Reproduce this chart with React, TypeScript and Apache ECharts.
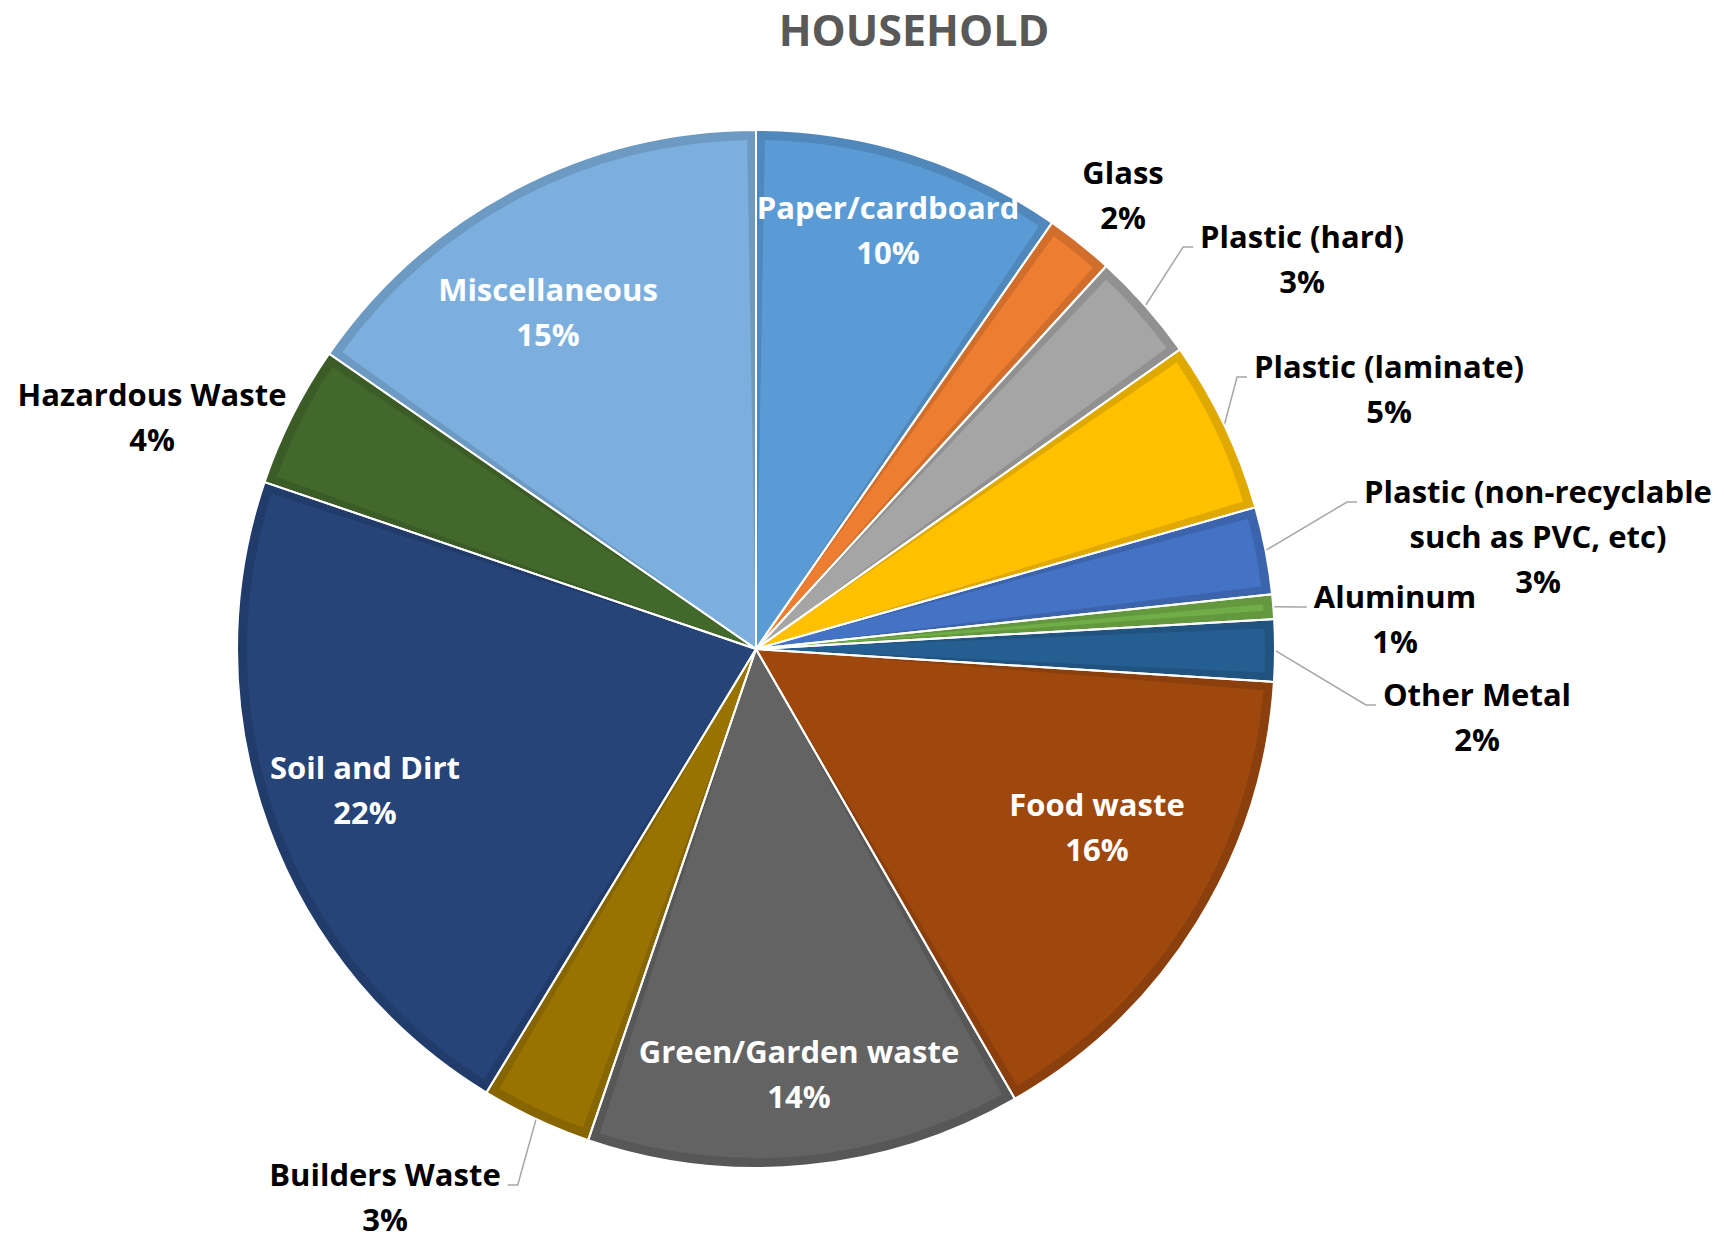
import React, { useEffect, useRef } from 'react';
import * as echarts from 'echarts';

const TITLE = 'HOUSEHOLD';
const CATEGORIES = [
  'Paper/cardboard',
  'Glass',
  'Plastic (hard)',
  'Plastic (laminate)',
  'Plastic (non-recyclable\nsuch as PVC, etc)',
  'Aluminum',
  'Other Metal',
  'Food waste',
  'Green/Garden waste',
  'Builders Waste',
  'Soil and Dirt',
  'Hazardous Waste',
  'Miscellaneous',
];
const VALUES = [9.66, 2.13, 3.42, 5.39, 2.72, 0.76, 1.93, 15.68, 13.55, 3.45, 21.52, 4.42, 15.37];

// styling / layout config (not data)
const COLORS = ['#5B9BD5', '#ED7D31', '#A5A5A5', '#FFC000', '#4472C4', '#70AD47', '#255E91', '#9E480E', '#636363', '#997300', '#264478', '#43682B', '#7CAFDD'];
const INSIDE = [true, false, false, false, false, false, false, true, true, false, true, false, true];
const HAS_LINE = [false, false, true, true, true, true, true, false, false, true, false, false, false];
// label anchor: [center x, first-line baseline y]
const LABEL_ANCHOR: number[][] = [
  [888, 218], [1123, 183], [1302, 247], [1389, 377], [1538, 502], [1395, 607], [1477, 705],
  [1097, 815], [799, 1062], [385, 1185], [365, 778], [152, 405], [548, 300],
];

const CENTER = [756, 649];
const RADIUS = 519;
const FONT = 'Open Sans';
const FS = 31;
const LH = 45;
const BASE_OFF = 34;

function darken(hex: string, f = 0.88) {
  const n = parseInt(hex.slice(1), 16);
  const r = Math.round(((n >> 16) & 255) * f);
  const g = Math.round(((n >> 8) & 255) * f);
  const b = Math.round((n & 255) * f);
  return `rgb(${r},${g},${b})`;
}

export default function App() {
  const ref = useRef<HTMLDivElement>(null);
  useEffect(() => {
    const chart = echarts.init(ref.current!, null, { renderer: 'svg' });
    const tokenBase = { fontFamily: FONT, fontSize: FS, fontWeight: 'bold', lineHeight: LH, align: 'center' };
    const option: any = {
      animation: false,
      backgroundColor: '#ffffff',
      title: {
        text: TITLE,
        left: 914,
        top: 8,
        padding: 0,
        textAlign: 'center',
        textStyle: { fontFamily: FONT, fontWeight: 'bold', fontSize: 43, color: '#595959' },
      },
      series: [
        {
          type: 'pie',
          silent: true,
          center: CENTER,
          radius: RADIUS,
          label: { show: false },
          labelLine: { show: false },
          itemStyle: { borderWidth: 0 },
          emphasis: { disabled: true },
          data: VALUES.map((v, i) => ({ value: v, name: CATEGORIES[i], itemStyle: { color: darken(COLORS[i]) } })),
        },
        {
          type: 'pie',
          silent: true,
          center: CENTER,
          radius: RADIUS - 10,
          padAngle: 2,
          label: { show: false },
          labelLine: { show: false },
          itemStyle: { borderWidth: 0 },
          emphasis: { disabled: true },
          data: VALUES.map((v, i) => ({ value: v, name: CATEGORIES[i], itemStyle: { color: COLORS[i] } })),
        },
        {
          type: 'pie',
          silent: true,
          center: CENTER,
          radius: RADIUS,
          avoidLabelOverlap: false,
          emphasis: { disabled: true },
          itemStyle: { color: 'rgba(0,0,0,0)', borderColor: '#ffffff', borderWidth: 2 },
          label: {
            show: true,
            position: 'outside',
            formatter: (p: any) => {
              const s = INSIDE[p.dataIndex] ? 'w' : 'b';
              const lines = String(p.name).split('\n');
              lines.push(Math.round(p.percent) + '%');
              return lines.map((l) => `{${s}|${l}}`).join('\n');
            },
            rich: {
              w: { ...tokenBase, color: '#ffffff' },
              b: { ...tokenBase, color: '#000000' },
            },
          },
          labelLine: { lineStyle: { color: '#A6A6A6', width: 1.5 } },
          labelLayout: (params: any) => {
            const i = params.dataIndex;
            const a = LABEL_ANCHOR[i];
            if (!a) return {};
            const res: any = { x: a[0], y: a[1] - BASE_OFF, align: 'center', verticalAlign: 'top' };
            if (HAS_LINE[i] && params.labelLinePoints) {
              const p0 = params.labelLinePoints[0];
              const half = params.labelRect.width / 2;
              const right = a[0] > CENTER[0];
              const endX = right ? a[0] - half - 7 : a[0] + half + 7;
              const elbowX = right ? endX - 10 : endX + 10;
              res.labelLinePoints = [p0, [elbowX, a[1]], [endX, a[1]]];
            }
            return res;
          },
          data: VALUES.map((v, i) => ({ value: v, name: CATEGORIES[i], labelLine: { show: HAS_LINE[i] } })),
        },
      ],
    };
    chart.setOption(option);
    return () => chart.dispose();
  }, []);
  return (
    <div
      ref={ref}
      style={{ position: 'fixed', left: 0, top: 0, width: 1724, height: 1241, background: '#ffffff' }}
    />
  );
}
